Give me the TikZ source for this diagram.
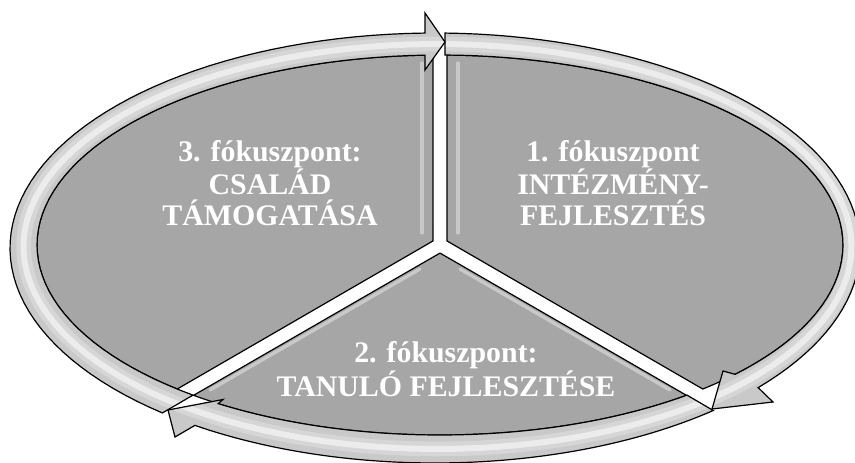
\documentclass[tikz,border=0pt]{standalone}
\usepackage{fontspec}
\setmainfont{Liberation Serif}
\usetikzlibrary{positioning}

\begin{document}
\begin{tikzpicture}[
    x=0.75pt, y=0.75pt,
    sector/.style={draw=black,line width=0.9pt,fill=gray!70,line join=round},
    ringarrow/.style={draw=black,line width=0.9pt,fill=gray!42,line join=miter,
        path picture={
          \draw[white,opacity=.25,line width=11pt] plot[domain=0:360,samples=120] ({-2.5+414*cos(\x)},{-1.5+202.5*sin(\x)});
          \draw[white,opacity=.55,line width=4.5pt] plot[domain=0:360,samples=120] ({-2.5+414*cos(\x)},{-1.5+202.5*sin(\x)});
        }},
    glint/.style={white,opacity=.4,line width=2.5pt,line cap=round},
    focus/.style={text=white,font=\bfseries\fontsize{22.4}{22.6}\selectfont,align=center},
]
\useasboundingbox (-440,-218) rectangle (415,245);

% three sectors of the ellipse
\draw[sector] (7,4.04) -- plot[domain=89:-49.3,samples=60] ({403*cos(\x)},{190*sin(\x)}) -- cycle;
\draw[sector] (-7,4.04) -- plot[domain=91:229.3,samples=60] ({403*cos(\x)},{190*sin(\x)}) -- cycle;
\draw[sector] (0,-8.08) -- plot[domain=-52.3:-127.7,samples=60] ({403*cos(\x)},{190*sin(\x)}) -- cycle;

% light streaks inside the sectors
\draw[glint] (18,12) -- (18,182);
\draw[glint] (-18,12) -- (-18,182);
\draw[glint] (-20,-24) -- (-230,-145);
\draw[glint] (20,-24) -- (230,-145);

% cycle arrows round the ring
\draw[ringarrow] plot[domain=88.65:-40.5,samples=60] ({-5+425*cos(\x)},{-3+215*sin(\x)})
  -- (333,-157) -- (272,-164) -- (283,-126)
  -- plot[domain=-42.9:89.3,samples=60] ({403*cos(\x)},{190*sin(\x)}) -- cycle;
\draw[ringarrow] plot[domain=-49.1:-124.4,samples=60] ({-5+425*cos(\x)},{-3+215*sin(\x)})
  -- (-265,-192) -- (-272,-165) -- (-217,-154.5)
  -- plot[domain=-123.4:-52.2,samples=60] ({403*cos(\x)},{190*sin(\x)}) -- cycle;
\draw[ringarrow] plot[domain=230.1:91.35,samples=60] ({-5+425*cos(\x)},{-3+215*sin(\x)})
  -- (-15,232) -- (5,203) -- (-15,175)
  -- plot[domain=92.13:232.2,samples=60] ({403*cos(\x)},{190*sin(\x)}) -- cycle;

% labels
\node[focus] (focus3) at (-170,62) {3. fókuszpont:\\CSALÁD\\TÁMOGATÁSA};
\node[focus] (focus1) at (173,62) {1. fókuszpont\\INTÉZMÉNY-\\FEJLESZTÉS};
\node[focus] (focus2) at (6,-124) {2. fókuszpont:\\TANULÓ FEJLESZTÉSE};
\end{tikzpicture}
\end{document}
